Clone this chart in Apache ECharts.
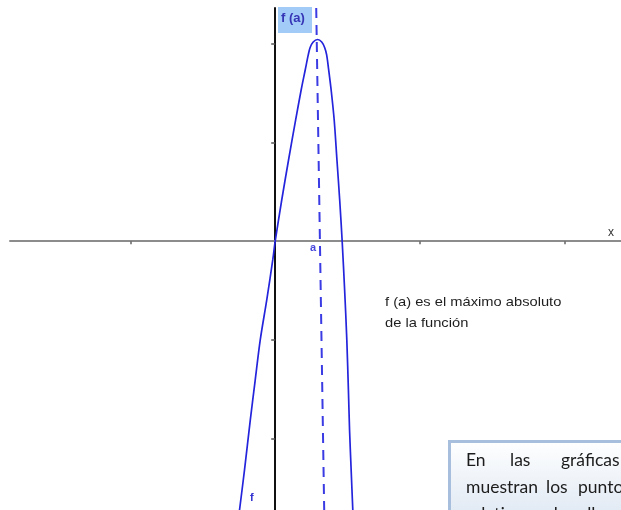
<!DOCTYPE html>
<html>
<head>
<meta charset="utf-8">
<script src="https://cdn.jsdelivr.net/npm/echarts@6/dist/echarts.min.js"></script>
<style>
  html, body { margin: 0; padding: 0; background: #ffffff; }
  #chart { width: 621px; height: 510px; }
</style>
</head>
<body>
<div id="chart"></div>
<script>
// Graph of f: samples of the curve (x, f(x)), left branch then right branch
const curveX = [-0.248, -0.212, -0.172, -0.138, -0.103, -0.058, -0.017, 0, 0.045, 0.092, 0.141, 0.179, 0.207, 0.228, 0.241, 0.262, 0.293,
                0.321, 0.341, 0.355, 0.369, 0.386, 0.407, 0.426, 0.445, 0.462, 0.479, 0.494, 0.505, 0.513, 0.524, 0.536];
const curveY = [-2.741, -2.316, -1.810, -1.405, -0.996, -0.591, -0.190, 0, 0.417, 0.822, 1.227, 1.530, 1.733, 1.885, 1.960, 2.016, 2.041,
                2.016, 1.960, 1.885, 1.733, 1.530, 1.227, 0.822, 0.417, 0, -0.494, -0.996, -1.502, -1.911, -2.316, -2.741];

// Dashed guide through the maximum at x = a
const guideX = [0.283, 0.338];
const guideY = [2.36, -2.72];

// Axis tick positions (no numeric labels are drawn)
const xTicks = [-1, 1, 2];
const yTicks = [-2, -1, 1, 2];

// Axis extents
const xRange = [-1.83, 2.386];
const yRange = [-2.72, 2.36];

// Annotation texts
const peakLabel = 'f (a)';
const rootLabel = 'a';
const curveName = 'f';
const axisName = 'x';
const noteLines = ['f (a) es el máximo absoluto', 'de la función'];
const boxLine1 = ['En', 'las', 'gráficas'];
const boxLine2 = ['muestran', 'los', 'puntos'];
const boxLine3 = ['relativos', 'de', 'ellas'];

const zip = (xs, ys) => xs.map((x, i) => [x, ys[i]]);

const chart = echarts.init(document.getElementById('chart'), null, { renderer: 'canvas' });

const boxFont = '17.5px Lato, "Open Sans", sans-serif';
const plotFont = '"Liberation Sans", Arial, sans-serif';
const boxInk = '#1c1c1c';

const boxWord = (text, left, top) => ({
  type: 'text', left: left, top: top,
  style: { text: text, font: boxFont, fill: boxInk }, z: 21
});

const option = {
  backgroundColor: '#ffffff',
  animation: false,
  grid: { left: 10, right: 0, top: 8, bottom: 0, containLabel: false },
  xAxis: {
    type: 'value',
    min: xRange[0],
    max: xRange[1],
    axisLine: { onZero: true, lineStyle: { color: '#8c8c8c', width: 2 } },
    axisTick: { show: true, customValues: xTicks, length: 3, lineStyle: { color: '#666', width: 1.5 } },
    axisLabel: { show: false },
    splitLine: { show: false }
  },
  yAxis: {
    type: 'value',
    min: yRange[0],
    max: yRange[1],
    axisLine: { onZero: true, lineStyle: { color: '#111111', width: 2 } },
    axisTick: { show: true, customValues: yTicks, length: 4, lineStyle: { color: '#555', width: 1.5 } },
    axisLabel: { show: false },
    splitLine: { show: false }
  },
  series: [
    {
      type: 'line',
      data: zip(curveX, curveY),
      smooth: 0.3,
      symbol: 'none',
      clip: true,
      lineStyle: { color: '#2424dc', width: 1.7 },
      z: 3
    },
    {
      type: 'line',
      data: zip(guideX, guideY),
      symbol: 'none',
      clip: true,
      lineStyle: { color: '#3b3be4', width: 2, type: [10, 7] },
      z: 2
    }
  ],
  graphic: [
    // label box for f(a)
    {
      type: 'rect', left: 278, top: 7,
      shape: { width: 34, height: 26 },
      style: { fill: '#a3cbf8' }, z: 10
    },
    {
      type: 'text', left: 281, top: 12,
      style: { text: peakLabel, font: 'bold 13px ' + plotFont, fill: '#3535b5' }, z: 11
    },
    {
      type: 'text', left: 310, top: 242,
      style: { text: rootLabel, font: 'bold 11px ' + plotFont, fill: '#4848dc' }, z: 11
    },
    {
      type: 'text', left: 250, top: 492,
      style: { text: curveName, font: 'bold 11px ' + plotFont, fill: '#3030d0' }, z: 11
    },
    {
      type: 'text', left: 608, top: 227,
      style: { text: axisName, font: '12px ' + plotFont, fill: '#333333' }, z: 11
    },
    {
      type: 'text', x: 385, y: 309, scaleX: 1.13,
      style: { text: noteLines[0], font: '13px ' + plotFont, fill: '#1e1e1e', textVerticalAlign: 'bottom' }, z: 11
    },
    {
      type: 'text', x: 385, y: 330, scaleX: 1.13,
      style: { text: noteLines[1], font: '13px ' + plotFont, fill: '#1e1e1e', textVerticalAlign: 'bottom' }, z: 11
    },
    // text box in the lower right corner
    {
      type: 'rect', left: 448, top: 440,
      shape: { width: 200, height: 100 },
      style: {
        fill: new echarts.graphic.LinearGradient(0, 0, 0, 1, [
          { offset: 0, color: '#ffffff' },
          { offset: 1, color: '#d5e1ef' }
        ]),
        stroke: '#a7bfdd', lineWidth: 3
      },
      z: 20
    },
    boxWord(boxLine1[0], 466, 451),
    boxWord(boxLine1[1], 510, 451),
    boxWord(boxLine1[2], 561, 451),
    boxWord(boxLine2[0], 466, 478),
    boxWord(boxLine2[1], 546, 478),
    boxWord(boxLine2[2], 578, 478),
    boxWord(boxLine3[0], 466, 505),
    boxWord(boxLine3[1], 548, 505),
    boxWord(boxLine3[2], 578, 505)
  ]
};

chart.setOption(option);
</script>
</body>
</html>
